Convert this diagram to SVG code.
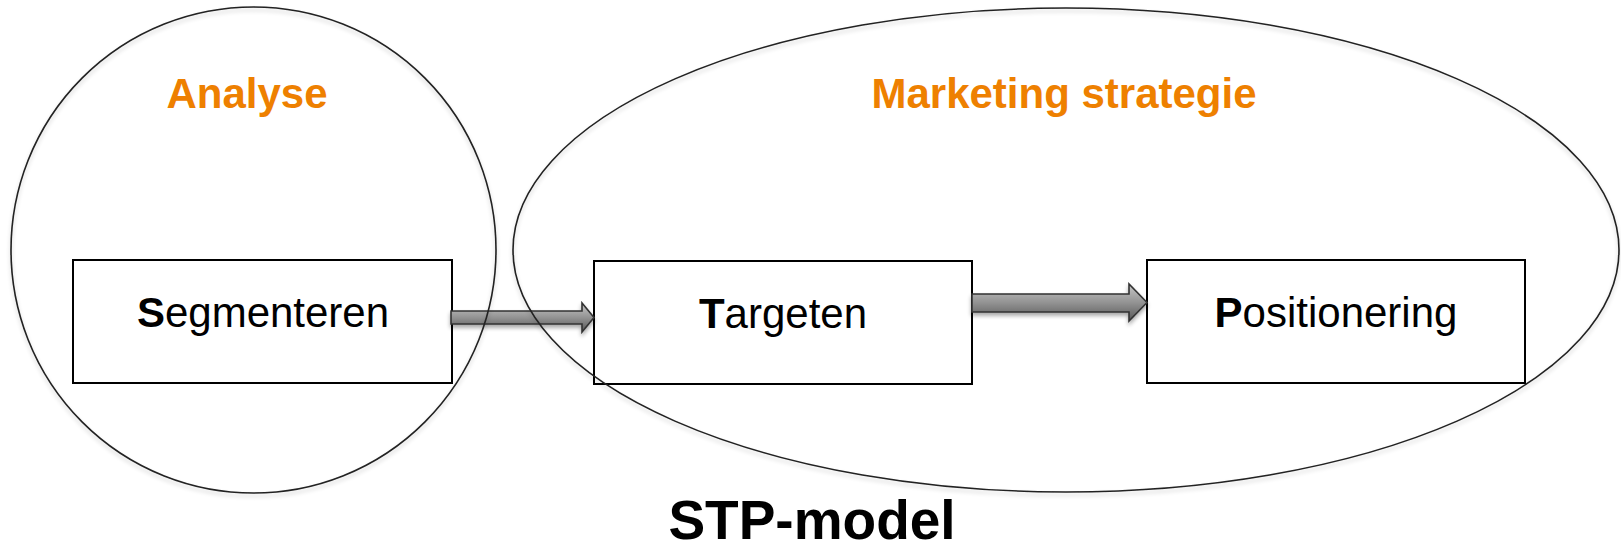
<svg xmlns="http://www.w3.org/2000/svg" width="1621" height="546" viewBox="0 0 1621 546">
<style>
.box{fill:#fff;stroke:#000;stroke-width:2}
.ring{fill:none;stroke:#222;stroke-width:1.6}
.lbl{font-family:"Liberation Sans",Arial,sans-serif;font-size:42px;fill:#000;text-anchor:middle}
.hd{font-family:"Liberation Sans",Arial,sans-serif;font-size:42px;font-weight:bold;fill:#EE8000;text-anchor:middle}
.ttl{font-family:"Liberation Sans",Arial,sans-serif;font-size:55px;font-weight:bold;fill:#000;text-anchor:middle}
.arr{fill:url(#ag);stroke:#333;stroke-width:1.6;filter:url(#sh)}
</style>
<defs>
<linearGradient id="ag" x1="0" y1="0" x2="0" y2="1">
<stop offset="0" stop-color="#c8c8c8"/>
<stop offset="0.5" stop-color="#939393"/>
<stop offset="1" stop-color="#575757"/>
</linearGradient>
<filter id="sh" x="-10%" y="-50%" width="120%" height="200%">
<feGaussianBlur in="SourceAlpha" stdDeviation="2"/>
<feOffset dy="3" result="b"/>
<feComponentTransfer><feFuncA type="linear" slope="0.35"/></feComponentTransfer>
<feMerge><feMergeNode/><feMergeNode in="SourceGraphic"/></feMerge>
</filter>
<filter id="csh" x="-5%" y="-5%" width="110%" height="110%">
<feGaussianBlur in="SourceAlpha" stdDeviation="2"/>
<feOffset dy="3"/>
<feComponentTransfer><feFuncA type="linear" slope="0.2"/></feComponentTransfer>
<feMerge><feMergeNode/><feMergeNode in="SourceGraphic"/></feMerge>
</filter>
</defs>
<rect width="1621" height="546" fill="#fff"/>

<g id="segmenteren">
<rect class="box" x="73" y="260" width="379" height="123"/>
<text class="lbl" x="263" y="327"><tspan font-weight="bold">S</tspan>egmenteren</text>
</g>
<g id="targeten">
<rect class="box" x="594" y="261" width="378" height="123"/>
<text class="lbl" x="783" y="328"><tspan font-weight="bold">T</tspan>argeten</text>
</g>
<g id="positionering">
<rect class="box" x="1147" y="260" width="378" height="123"/>
<text class="lbl" x="1336" y="327"><tspan font-weight="bold">P</tspan>ositionering</text>
</g>

<g id="connectors">
<path class="arr" d="M451,311 L582,311 L582,303 L594,317.5 L582,332 L582,324 L451,324 Z"/>
<path class="arr" d="M972,294 L1129,294 L1129,284 L1147,302.5 L1129,321 L1129,312 L972,312 Z"/>
</g>

<g id="analyse">
<ellipse class="ring" filter="url(#csh)" cx="253.5" cy="250" rx="242.5" ry="243"/>
<text class="hd" x="247" y="108">Analyse</text>
</g>
<g id="marketing-strategie">
<ellipse class="ring" filter="url(#csh)" cx="1066" cy="250" rx="553" ry="242"/>
<text class="hd" x="1064" y="108">Marketing strategie</text>
</g>

<g id="title">
<text class="ttl" x="812" y="539">STP-model</text>
</g>
</svg>
